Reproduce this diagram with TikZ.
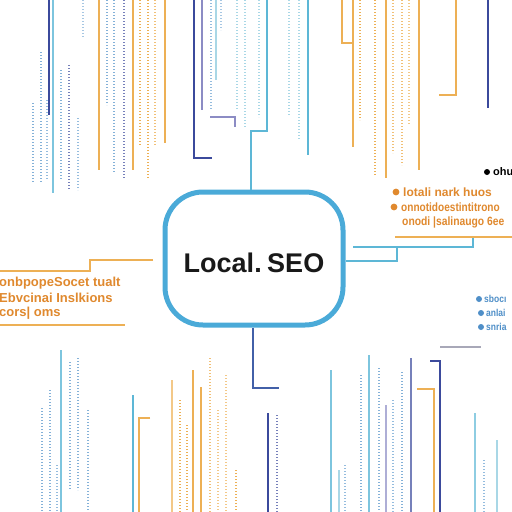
\documentclass[tikz,border=0pt]{standalone}
\usepackage{fontspec}
\setmainfont{Liberation Sans}
\definecolor{cBox}{HTML}{4AAAD8}
\definecolor{cOr}{HTML}{EDB055}
\definecolor{cOrT}{HTML}{E0892E}
\definecolor{cDb}{HTML}{3B4A9C}
\definecolor{cBl}{HTML}{4F8FC8}
\definecolor{cCy}{HTML}{5DB7D6}
\definecolor{cLc}{HTML}{A9D7E6}
\definecolor{cPu}{HTML}{8C8CC4}
\definecolor{cGr}{HTML}{A8A8B8}
\tikzset{
 ln/.style={line width=1.5pt},
 dcl/.style={line width=2.2pt, dash pattern=on 1.3pt off 1.7pt},
 otext/.style={text=cOrT, font=\bfseries\fontsize{12}{14}\selectfont, inner sep=0pt, anchor=west},
 btext/.style={text=cBl, font=\bfseries\fontsize{10}{12}\selectfont, inner sep=0pt, anchor=west},
}
\newcommand\vl[4]{\draw[ln,#4] (#1,#2) -- (#1,#3);}
\newcommand\vd[4]{\draw[dcl,#4] (#1,#2) -- (#1,#3);}
\begin{document}
\begin{tikzpicture}[x=1pt,y=-1pt]
\useasboundingbox (0,0) rectangle (512,512);
\fill[white] (0,0) rectangle (512,512);
\clip (0,0) rectangle (512,512);
% ---------- top-left columns
\vd{33}{103}{183}{cBl!70}
\vd{41}{52}{183}{cBl!70}
\vd{47}{100}{180}{cBl!60}
\vl{49}{0}{115}{cDb}
\vl{53}{0}{193}{cCy!80}
\vd{61}{70}{180}{cBl!70}
\vd{69}{65}{190}{cDb!70}
\vd{78}{118}{190}{cBl!60}
\vd{83}{0}{38}{cBl!50}
\vl{99}{0}{170}{cOr}
\vd{107}{0}{105}{cBl!70}
\vd{114}{0}{172}{cBl!70}
\vd{124}{0}{178}{cDb!70}
\vl{133}{0}{170}{cOr}
\vd{140}{0}{145}{cOr}
\vd{148}{0}{178}{cOr}
\vd{155}{0}{145}{cOr!80}
\vl{165}{0}{143}{cOr}
\draw[ln,cDb] (194,0) -- (194,158) -- (212,158);
\vl{202}{0}{110}{cPu}
\draw[ln,cPu] (210,117) -- (235,117) -- (235,127);
\vd{211}{0}{110}{cBl!60}
\vl{216}{0}{80}{cLc}
\vd{221}{0}{30}{cBl!50}
\vd{237}{0}{110}{cLc}
\vd{245}{0}{128}{cLc}
% ---------- top-right columns
\vd{259}{0}{117}{cLc}
\vd{289}{0}{115}{cLc}
\vd{299}{0}{140}{cLc}
\vl{308}{0}{155}{cCy}
\draw[ln,cOr] (342,0) -- (342,43) -- (352,43);
\vl{353}{0}{147}{cOr}
\vd{360}{0}{120}{cOr}
\vd{375}{0}{175}{cOr}
\vl{386}{0}{178}{cOr}
\vd{393}{0}{153}{cOr!80}
\vd{402}{0}{165}{cOr!80}
\vd{409}{0}{125}{cOr!70}
\vl{419}{0}{170}{cOr}
\draw[ln,cOr] (456,0) -- (456,95) -- (439,95);
\vl{488}{0}{108}{cDb}
% ---------- bottom-left columns
\vd{42}{408}{512}{cBl!70}
\vd{50}{390}{512}{cBl!70}
\vd{57}{465}{512}{cBl!60}
\vl{61}{350}{512}{cCy!80}
\vd{70}{362}{490}{cBl!70}
\vd{78}{358}{490}{cBl!70}
\vd{88}{410}{512}{cBl!70}
\vl{133}{395}{512}{cCy}
\draw[ln,cOr] (150,418) -- (139,418) -- (139,512);
\vl{172}{380}{512}{cOr!70}
\vd{180}{400}{512}{cOr}
\vd{187}{425}{512}{cOr}
\vl{193}{370}{512}{cOr}
\vl{201}{387}{512}{cOr}
\vd{210}{358}{512}{cOr!80}
\vd{218}{410}{512}{cOr!70}
\vd{226}{375}{512}{cOr!70}
\vd{236}{470}{512}{cOr}
% ---------- bottom-right columns
\vl{268}{413}{512}{cDb}
\vd{277}{415}{512}{cDb!70}
\vl{331}{370}{512}{cCy!80}
\vl{339}{470}{512}{cLc}
\vd{345}{465}{512}{cBl!60}
\vd{361}{375}{512}{cBl!70}
\vl{369}{355}{512}{cCy!80}
\vd{379}{368}{512}{cBl!70}
\vl{386}{405}{512}{cPu!70}
\vd{393}{400}{512}{cBl!60}
\vd{402}{372}{512}{cBl!70}
\vl{411}{358}{512}{cDb!70}
\draw[ln,cOr] (417,389) -- (434,389) -- (434,512);
\draw[ln,cDb] (430,361) -- (440,361) -- (440,512);
\draw[ln,cGr] (440,347) -- (481,347);
\vl{475}{413}{512}{cCy!70}
\vd{484}{460}{512}{cBl!60}
\vl{497}{440}{512}{cLc}
% ---------- central node
\node[draw=cBox, line width=5pt, rounded corners=38pt, minimum width=178pt, minimum height=133pt, inner sep=0pt] (seo) at (254,258.5) {};
\node[font=\fontsize{27}{30}\selectfont\bfseries, text=black!90] (lbl) at (254,262.5) {Local.\kern-2pt\ SEO};
% ---------- connectors
\coordinate (t1) at (251,131);
\coordinate (t2) at (267,131);
\coordinate (t3) at (267,0);
\draw[ln,cCy] (seo.north -| t1) -- (t1) -- (t2) -- (t3);
\coordinate (r1) at (397,261);
\coordinate (r2) at (397,247);
\coordinate (r3) at (353,247);
\coordinate (r4) at (473,247);
\coordinate (r5) at (473,237);
\draw[ln,cCy] (seo.east |- r1) -- (r1) -- (r2);
\draw[ln,cCy] (r3) -- (r4) -- (r5);
\coordinate (ou1) at (395,237);
\coordinate (ou2) at (512,237);
\draw[ln,cOr] (ou1) -- (ou2);
\coordinate (l1) at (153,260);
\coordinate (l2) at (90,260);
\coordinate (l3) at (90,271);
\coordinate (l4) at (0,271);
\draw[ln,cOr] (l1) -- (l2) -- (l3) -- (l4);
\coordinate (lu1) at (0,325);
\coordinate (lu2) at (125,325);
\draw[ln,cOr] (lu1) -- (lu2);
\coordinate (b1) at (253,388);
\coordinate (b2) at (279,388);
\draw[ln,cDb!80!cCy] (seo.south -| b1) -- (b1) -- (b2);
% ---------- right text
\fill[black] (487,172) circle (3pt);
\node[anchor=west, inner sep=0pt, font=\bfseries\fontsize{11}{13}\selectfont] (oh) at (493,172) {ohu};
\fill[cOrT] (396,192) circle (3.4pt);
\node[otext] (o1) at (403,192) {lotali nark huos};
\fill[cOrT] (394,207) circle (3.4pt);
\node[otext] (o2) at (401,207) {\scalebox{0.84}[1]{onnotidoestintitrono}};
\node[otext] (o3) at (402,222) {\scalebox{0.86}[1]{onodi |salinaugo 6ee}};
% ---------- left text
\node[otext, font=\bfseries\fontsize{13}{15}\selectfont] (lt1) at (-1,283) {onbpopeSocet tualt};
\node[otext, font=\bfseries\fontsize{13}{15}\selectfont] (lt2) at (-1,298) {Ebvcinai Inslkions};
\node[otext, font=\bfseries\fontsize{13}{15}\selectfont] (lt3) at (-1,313) {cors| oms};
% ---------- blue bullets
\fill[cBl] (479,299) circle (3pt);
\node[btext] (bb1) at (484,299) {\scalebox{0.85}[1]{sbocı}};
\fill[cBl] (481,313) circle (3pt);
\node[btext] (bb2) at (486,313) {\scalebox{0.85}[1]{anlai}};
\fill[cBl] (481,327) circle (3pt);
\node[btext] (bb3) at (486,327) {\scalebox{0.85}[1]{snria}};
\end{tikzpicture}
\end{document}
